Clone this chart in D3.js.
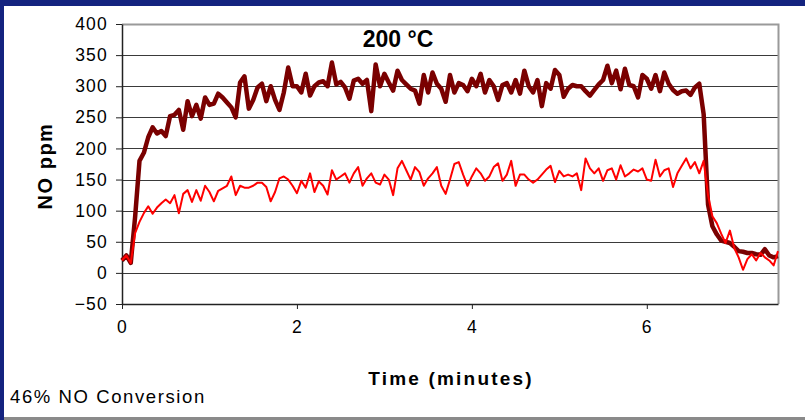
<!DOCTYPE html>
<html>
<head>
<meta charset="utf-8">
<script src="https://cdn.jsdelivr.net/npm/d3@7"></script>
<style>
  body { margin: 0; background: #14237f; }
  text { font-family: "Liberation Sans", Arial, sans-serif; }
</style>
</head>
<body>
<svg id="chart" width="805" height="420"></svg>
<script>
var sampleMinutes = 0.05;

// thick dark red trace
var noDark = [
  20,28,16,90,180,193,218,234,224,228,220,252,254,262,230,276,252,270,248,282,
  270,272,288,282,274,266,250,306,316,264,278,298,304,276,300,278,262,290,330,300,
  300,290,320,285,300,306,308,300,338,303,307,298,280,309,312,304,310,260,335,300,
  320,306,293,325,310,303,296,293,272,318,290,322,304,296,275,318,290,305,302,292,
  312,300,320,290,310,300,278,302,305,290,310,288,325,300,290,310,268,305,296,326,
  318,283,296,302,300,300,292,285,294,303,310,333,305,325,295,328,302,300,282,318,
  312,296,318,292,322,304,294,288,292,293,286,298,304,255,110,75,62,52,50,48,
  42,35,34,32,32,30,29,38,28,25,27
];

// thin bright red trace
var noRed = [
  20,28,16,64,82,96,107,95,105,112,118,112,125,96,127,133,114,133,116,140,
  130,115,132,136,140,155,125,140,137,137,140,145,145,138,115,130,152,155,150,140,
  128,148,137,160,130,147,140,126,165,150,155,160,145,160,170,140,152,160,145,142,
  158,150,125,168,180,165,150,170,162,140,152,160,170,140,127,150,175,178,158,140,
  155,168,160,148,155,170,176,148,158,180,140,158,158,150,145,150,158,166,172,146,
  164,155,158,155,160,133,184,168,160,168,148,165,168,150,173,155,160,166,163,168,
  150,148,182,155,165,168,138,160,172,184,168,178,160,180,125,91,80,63,48,68,
  40,25,5,22,30,20,32,25,20,12,35
];

var yTicks = [-50, 0, 50, 100, 150, 200, 250, 300, 350, 400];
var xTicks = [0, 2, 4, 6];
var yDomain = [-50, 400];
var xDomain = [0, 7.5];

var titleText = "200 °C";
var xTitle = "Time (minutes)";
var yTitle = "NO ppm";
var caption = "46% NO Conversion";

var margin = {top: 24, right: 27, bottom: 116, left: 122},
    width  = 805 - margin.left - margin.right,
    height = 420 - margin.top - margin.bottom;

var x = d3.scaleLinear().domain(xDomain).range([0, width]);
var y = d3.scaleLinear().domain(yDomain).range([height, 0]);

var svg = d3.select("#chart");

// slide frame
svg.append("rect").attr("width", 805).attr("height", 420).attr("fill", "#14237f");
svg.append("rect").attr("x", 4).attr("y", 6).attr("width", 801).attr("height", 412).attr("fill", "#ffffff");
svg.append("rect").attr("x", 4).attr("y", 417).attr("width", 801).attr("height", 3).attr("fill", "#8a8a8a");

var g = svg.append("g")
  .attr("transform", "translate(" + margin.left + "," + margin.top + ")");

// gridlines
g.selectAll("line.grid")
  .data(yTicks.filter(function (d) { return d > yDomain[0] && d < yDomain[1]; }))
  .enter()
  .append("line")
  .attr("class", "grid")
  .attr("x1", 0)
  .attr("x2", width)
  .attr("y1", function (d) { return Math.round(y(d)) + 0.5; })
  .attr("y2", function (d) { return Math.round(y(d)) + 0.5; })
  .attr("stroke", "#3a3a3a")
  .attr("stroke-width", 1);

// top and right border
g.append("path")
  .attr("d", "M0," + (y(400) + 0.5) + "H" + (width + 0.5) + "V" + height)
  .attr("fill", "none")
  .attr("stroke", "#9a9a9a")
  .attr("stroke-width", 2);

// axes
var yAxis = d3.axisLeft(y).tickValues(yTicks).tickSize(6).tickSizeOuter(0).tickPadding(8);
var xAxis = d3.axisBottom(x).tickValues(xTicks).tickSize(5).tickSizeOuter(0).tickPadding(12);

var gy = g.append("g").attr("class", "y axis").call(yAxis);
var gx = g.append("g").attr("class", "x axis")
  .attr("transform", "translate(0," + height + ")")
  .call(xAxis);

[gy, gx].forEach(function (ax) {
  ax.select(".domain").attr("stroke", "#222").attr("stroke-width", 1.5);
  ax.selectAll(".tick line").attr("stroke", "#222");
  ax.selectAll(".tick text")
    .attr("fill", "#000")
    .style("font-size", "17.5px")
    .style("letter-spacing", "1.2px")
    .style("font-family", "'Liberation Sans', Arial, sans-serif");
});

// traces
var line = d3.line()
  .x(function (d, i) { return x(i * sampleMinutes); })
  .y(function (d) { return y(d); });

g.append("path")
  .datum(noDark)
  .attr("d", line)
  .attr("fill", "none")
  .attr("stroke", "#7a0000")
  .attr("stroke-width", 4.5)
  .attr("stroke-linejoin", "round");

g.append("path")
  .datum(noRed)
  .attr("d", line)
  .attr("fill", "none")
  .attr("stroke", "#ff0000")
  .attr("stroke-width", 2)
  .attr("stroke-linejoin", "round");

// texts
svg.append("text")
  .attr("x", 398)
  .attr("y", 47)
  .attr("text-anchor", "middle")
  .style("font-size", "23px")
  .style("font-weight", "bold")
  .text(titleText);

svg.append("text")
  .attr("x", 451)
  .attr("y", 385)
  .attr("text-anchor", "middle")
  .style("font-size", "19px")
  .style("font-weight", "bold")
  .style("letter-spacing", "2.2px")
  .text(xTitle);

svg.append("text")
  .attr("transform", "translate(52,166) rotate(-90)")
  .attr("text-anchor", "middle")
  .style("font-size", "20px")
  .style("font-weight", "bold")
  .style("letter-spacing", "1.5px")
  .text(yTitle);

svg.append("text")
  .attr("x", 10)
  .attr("y", 403)
  .style("font-size", "18.5px")
  .style("letter-spacing", "1.6px")
  .text(caption);
</script>
</body>
</html>
